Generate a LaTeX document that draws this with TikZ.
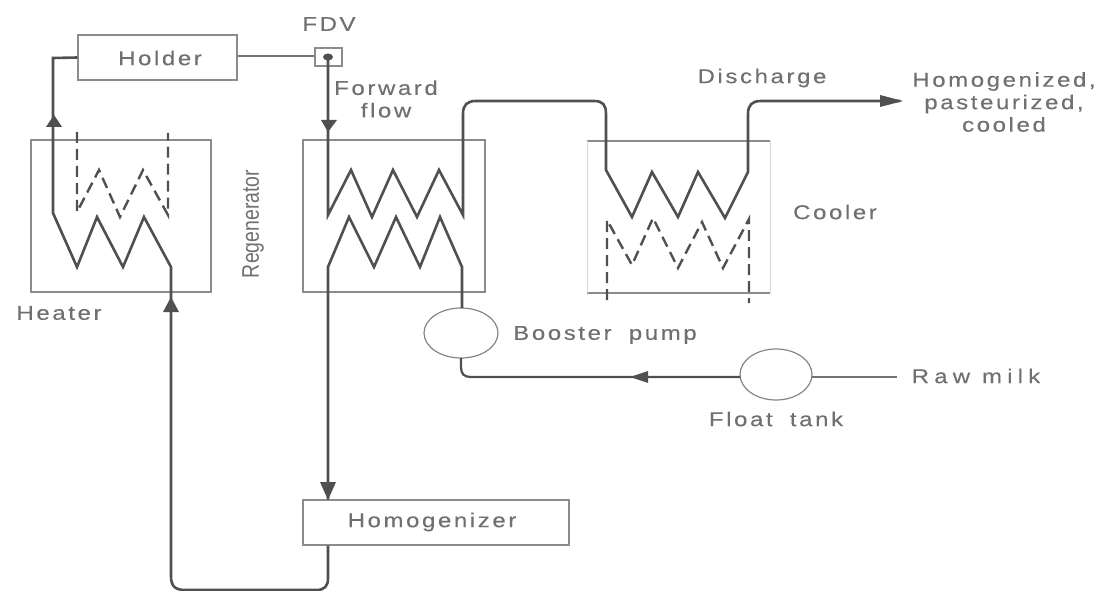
\documentclass[tikz,border=0pt]{standalone}
\usepackage{fontspec}
\setmainfont[LetterSpace=13,FakeStretch=1.2,FakeBold=0.25]{Liberation Sans}
\newfontfamily\narrowfont[FakeStretch=0.81]{Liberation Sans}
\newfontfamily\widefont[LetterSpace=26,FakeStretch=1.2,FakeBold=0.25]{Liberation Sans}
\usetikzlibrary{shapes.geometric}
\definecolor{ink}{HTML}{505050}
\definecolor{boxgrey}{HTML}{8C8C8C}
\definecolor{txt}{HTML}{707070}
\tikzset{
 x=1pt,y=-1pt,
 pipe/.style={draw=ink,line width=2.6pt,line join=miter},
 link/.style={draw=ink!80,line width=2pt},
 dash pipe/.style={draw=ink,line width=2.4pt,dash pattern=on 11pt off 6pt},
 unit/.style={draw=boxgrey,line width=1.1pt,minimum width=#1,rectangle,inner sep=0pt},
 tank/.style={draw=ink!70,line width=1.2pt,ellipse,inner sep=0pt},
 label/.style={text=txt,font=\fontsize{20}{22.5}\selectfont,inner sep=0pt,align=center},
}
\begin{document}
\begin{tikzpicture}
\useasboundingbox (0,0) rectangle (1104,591);
% units
\node[unit=159pt,minimum height=45pt] (holder) at (157.5,57.5) {};
\node[unit=27pt,minimum height=18pt] (fdv) at (328.5,57) {};
\fill[ink] (328,57) ellipse (5pt and 3.5pt);
\coordinate (fdvc) at (328,57);
\node[unit=180pt,minimum height=152pt] (heater) at (121,216) {};
\node[unit=182pt,minimum height=152pt] (regen) at (394,216) {};
\node[unit=266pt,minimum height=45pt] (homog) at (436,522.5) {};
% cooler
\coordinate (ctl) at (587,141); \coordinate (ctr) at (770,141);
\coordinate (cbl) at (587,293); \coordinate (cbr) at (770,293);
\draw[draw=boxgrey,line width=1.1pt] (ctl)--(ctr) (cbl)--(cbr);
\draw[draw=boxgrey!35,line width=.8pt] (ctl)--(cbl) (ctr)--(cbr);
% pumps
\node[tank,minimum width=74pt,minimum height=50pt] (booster) at (461,333) {};
\node[tank,minimum width=72pt,minimum height=51pt] (float) at (776,374.5) {};
\coordinate (raw) at (897,377);
\coordinate (out) at (900,101);
% pipes
\draw[link] (holder.east |- 0,56) -- (fdv.west |- 0,56);
\draw[pipe] (holder.west) -- (53,58) -- (53,213) -- (77,267) -- (97,217) -- (123,267) -- (144,217) -- (171,267) -- (171,576)
  .. controls (171,586) and (175,590) .. (185,590) -- (316,590) .. controls (325,590) and (328,586) .. (328,578) -- (homog.south -| fdvc);
\draw[pipe] (fdvc) -- (328,215) -- (351,170) -- (372,217) -- (393,170) -- (417,217) -- (439,170) -- (463,215) -- (463,114)
  .. controls (463,105) and (467,101) .. (476,101) -- (594,101) .. controls (603,101) and (606,105) .. (606,114)
  -- (606,170) -- (632,217) -- (652,172) -- (678,217) -- (698,172) -- (725,218) -- (748,172) -- (748,114)
  .. controls (748,105) and (752,101) .. (761,101) -- (out);
\draw[pipe] (homog.north -| fdvc) -- (328,267) -- (349,217) -- (374,267) -- (396,217) -- (420,267) -- (440,217) -- (462,267) -- (462,308);
\draw[pipe,line width=2.2pt] (461,358) -- (461,367) .. controls (461,374) and (464,377) .. (471,377) -- (740,377);
\draw[link] (812,377) -- (raw);
% dashed coils
\draw[dash pipe] (77,132) -- (77,212) -- (99,170) -- (120,217) -- (143,170) -- (168,215) -- (168,133);
\draw[dash pipe] (607,300) -- (607,220) -- (632,265) -- (653,218) -- (678,268) -- (702,222) -- (723,268) -- (749,219) -- (749,303);
% arrowheads
\fill[ink] (54,115) -- (46,127) -- (62,127) -- cycle;
\fill[ink] (328,132) -- (321,120) -- (337,120) -- cycle;
\fill[ink] (171,297) -- (163,312) -- (179,312) -- cycle;
\fill[ink] (328,500) -- (320,482) -- (336,482) -- cycle;
\fill[ink] (903,101) -- (880,95) -- (880,107) -- cycle;
\fill[ink] (630,377) -- (648,371) -- (648,383) -- cycle;
% labels
\node[label] at (329,24) {FDV};
\node[label] at (160,58) {Holder};
\node[label] at (432,522) {Homogenizer};
\node[label] at (386,99) {Forward\\flow};
\node[label] at (762,78) {Discharge};
\node[label] at (1004,102) {Homogenized,\\pasteurized,\\cooled};
\node[label] at (835,212) {Cooler};
\node[label] at (59,313) {Heater};
\node[label] at (605,335) {Booster\hspace{8pt} pump};
\node[label,font=\widefont\fontsize{20}{22.5}\selectfont] at (976,376) {Raw milk};
\node[label] at (776,419) {Float\hspace{8pt} tank};
\node[text=txt,font=\narrowfont\fontsize{24}{26}\selectfont,rotate=90,inner sep=0pt] at (253,224) {Regenerator};
\end{tikzpicture}
\end{document}
